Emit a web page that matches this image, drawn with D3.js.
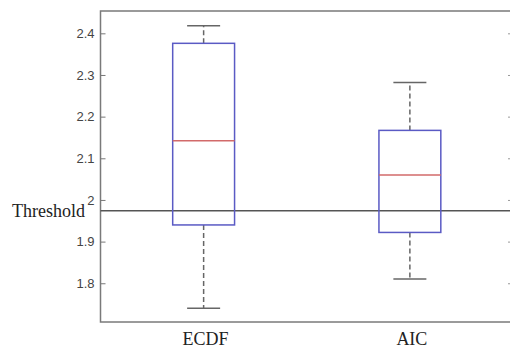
<!DOCTYPE html>
<html>
<head>
<meta charset="utf-8">
<script src="https://cdn.jsdelivr.net/npm/d3@7"></script>
<style>
  body { margin: 0; background: #fff; }
  svg { display: block; }
</style>
</head>
<body>
<script>
// box plot data
const categories = ["ECDF", "AIC"];
const whiskerLow = [1.74, 1.81];
const q1 = [1.94, 1.922];
const medians = [2.142, 2.06];
const q3 = [2.376, 2.167];
const whiskerHigh = [2.418, 2.282];
const threshold = 1.974;
const yTicks = [1.8, 1.9, 2, 2.1, 2.2, 2.3, 2.4];

const width = 510, height = 349;
const plotLeft = 100.5, plotRight = 513, plotTop = 11, plotBottom = 322;

const svg = d3.select("body").append("svg")
  .attr("width", width)
  .attr("height", height);

var x = d3.scaleLinear().domain([0.5, 2.5]).range([plotLeft, plotRight]);
var y = d3.scaleLinear().domain([1.707, 2.4536]).range([plotBottom, plotTop]);

// frame
svg.append("rect")
  .attr("x", plotLeft).attr("y", plotTop)
  .attr("width", plotRight - plotLeft).attr("height", plotBottom - plotTop)
  .attr("fill", "none")
  .attr("stroke", "#7a7a7a")
  .attr("stroke-width", 1.5);

// left axis, ticks point inward
const yAxis = svg.append("g")
  .attr("transform", "translate(" + plotLeft + ",0)")
  .call(d3.axisLeft(y).tickValues(yTicks).tickSize(-5).tickPadding(6).tickFormat(String));
yAxis.select(".domain").remove();
yAxis.selectAll("line").attr("stroke", "#777");
yAxis.selectAll("text")
  .attr("fill", "#444")
  .style("font-family", "'Liberation Sans', Arial, sans-serif")
  .style("font-size", "13px");

// right axis, ticks only
const yAxisR = svg.append("g")
  .attr("transform", "translate(" + plotRight + ",0)")
  .call(d3.axisRight(y).tickValues(yTicks).tickSize(-5).tickFormat(""));
yAxisR.select(".domain").remove();
yAxisR.selectAll("line").attr("stroke", "#999");

// threshold line
svg.append("line")
  .attr("x1", plotLeft).attr("x2", plotRight)
  .attr("y1", y(threshold)).attr("y2", y(threshold))
  .attr("stroke", "#555")
  .attr("stroke-width", 1.5);

svg.append("text")
  .attr("x", 85)
  .attr("y", y(threshold) + 6)
  .attr("text-anchor", "end")
  .style("font-family", "'Liberation Serif', 'Times New Roman', serif")
  .style("font-size", "18px")
  .attr("fill", "#222")
  .text("Threshold");

// boxes
const boxW = 0.3, capW = 0.16;
const boxes = svg.selectAll("g.box")
  .data(categories)
  .enter()
  .append("g")
  .attr("class", "box");

boxes.each(function (d, i) {
  const g = d3.select(this);
  const cx = x(i + 1);
  const half = (x(1 + boxW / 2) - x(1));
  const capHalf = (x(1 + capW / 2) - x(1));

  // whiskers (dashed)
  g.append("line")
    .attr("x1", cx).attr("x2", cx)
    .attr("y1", y(q3[i])).attr("y2", y(whiskerHigh[i]))
    .attr("stroke", "#666").attr("stroke-width", 1.5)
    .attr("stroke-dasharray", "5,3");
  g.append("line")
    .attr("x1", cx).attr("x2", cx)
    .attr("y1", y(q1[i])).attr("y2", y(whiskerLow[i]))
    .attr("stroke", "#666").attr("stroke-width", 1.5)
    .attr("stroke-dasharray", "5,3");

  // caps
  [whiskerHigh[i], whiskerLow[i]].forEach(function (v) {
    g.append("line")
      .attr("x1", cx - capHalf).attr("x2", cx + capHalf)
      .attr("y1", y(v)).attr("y2", y(v))
      .attr("stroke", "#666").attr("stroke-width", 1.5);
  });

  // box
  g.append("rect")
    .attr("x", cx - half)
    .attr("y", y(q3[i]))
    .attr("width", half * 2)
    .attr("height", y(q1[i]) - y(q3[i]))
    .attr("fill", "none")
    .attr("stroke", "#5a5ac4")
    .attr("stroke-width", 1.5);

  // median
  g.append("line")
    .attr("x1", cx - half).attr("x2", cx + half)
    .attr("y1", y(medians[i])).attr("y2", y(medians[i]))
    .attr("stroke", "#d26a6a").attr("stroke-width", 1.5);

  // category label
  g.append("text")
    .attr("x", cx + 2)
    .attr("y", 345)
    .attr("text-anchor", "middle")
    .style("font-family", "'Liberation Serif', 'Times New Roman', serif")
    .style("font-size", "18px")
    .attr("fill", "#222")
    .text(d);
});
</script>
</body>
</html>
